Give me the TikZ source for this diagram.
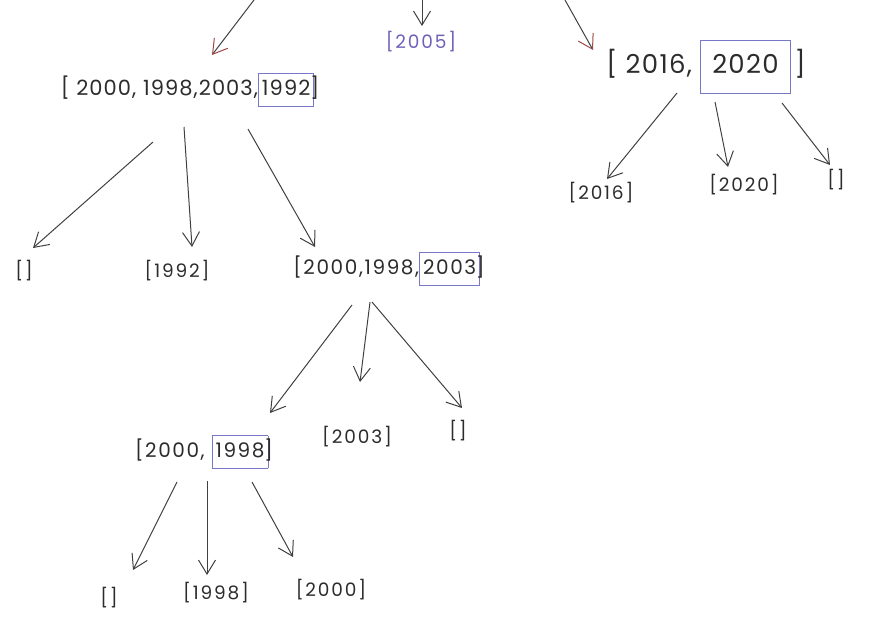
\documentclass[tikz,border=0pt]{standalone}
\usepackage{fontspec}
\setmainfont{Poppins}
\newfontfamily\handS[LetterSpace=10]{Poppins}
\newfontfamily\handM[LetterSpace=8]{Poppins}
\newfontfamily\handL[LetterSpace=5]{Poppins}
\usetikzlibrary{arrows.meta}
\definecolor{ink}{HTML}{2C2C2C}
\definecolor{line}{HTML}{404040}
\definecolor{pivot}{HTML}{7878C8}
\definecolor{purp}{HTML}{7060B8}
\definecolor{tipred}{HTML}{A04848}
\newcommand{\pv}[2][3pt]{{\setlength{\fboxsep}{#1}\setlength{\fboxrule}{0.9pt}\color{pivot}\fbox{\color{ink}\strut#2}}}
\begin{document}
\begin{tikzpicture}[x=1pt,y=-1pt,
  lbl/.style={inner sep=0pt, text=ink, font=\handS\fontsize{18.5}{22}\selectfont},
  mid/.style={inner sep=0pt, text=ink, font=\handM\fontsize{20}{26}\selectfont},
  big/.style={inner sep=0pt, text=ink, font=\handL\fontsize{21}{26}\selectfont},
  huge/.style={inner sep=0pt, text=ink, font=\handL\fontsize{26}{30}\selectfont},
  arr/.style={draw=line, line width=1pt, -{Straight Barb[length=14pt,width=17pt]}},
  arrred/.style={draw=line, line width=1pt, -{Straight Barb[length=14pt,width=17pt,color=tipred]}}]
\useasboundingbox (0,0) rectangle (869,632);
% free ends at top
\coordinate (t1) at (254,0);
\coordinate (t2) at (422,0);
\coordinate (t3) at (565,0);
% nodes
\node[big] (L1) at (190,90) {[ 2000, 1998,2003,\pv{1992}\kern-4pt]};
\node[lbl, text=purp] (n2005) at (421,42) {[2005]};
\node[huge] (R1) at (706,67) {[ 2016, \pv[11pt]{2020}\kern4pt]};
\node[lbl] (B1) at (601,193) {[2016]};
\node[lbl] (B2) at (744,185) {[2020]};
\node[lbl] (B3) at (836,180) {[]};
\node[lbl] (A1) at (24,271) {[]};
\node[lbl] (A2) at (177,271) {[1992]};
\node[mid] (L2) at (389,269) {[2000,1998,\pv{2003}\kern-4pt]};
\node[mid] (L3) at (204,452) {[2000, \pv{1998}\kern-4pt]};
\node[lbl] (C2) at (357,437) {[2003]};
\node[lbl] (C3) at (458,431) {[]};
\node[lbl] (D1) at (109,598) {[]};
\node[lbl] (D2) at (216,593) {[1998]};
\node[lbl] (D3) at (331,590) {[2000]};
% connectors
\draw[arrred] (t1) -- ([shift={(22,-35)}]L1.center);
\draw[arr] (t2) -- ([shift={(1,-16)}]n2005.center);
\draw[arrred] (t3) -- ([shift={(-113,-17)}]R1.center);
\draw[arr] ([shift={(-29,26)}]R1.center) -- ([shift={(6,-14)}]B1.center);
\draw[arr] ([shift={(9,35)}]R1.center) -- ([shift={(-16,-18)}]B2.center);
\draw[arr] ([shift={(76,36)}]R1.center) -- ([shift={(-6,-15)}]B3.center);
\draw[arr] ([shift={(-37,52)}]L1.center) -- ([shift={(9,-23)}]A1.center);
\draw[arr] ([shift={(-6,37)}]L1.center) -- ([shift={(15,-24)}]A2.center);
\draw[arr] ([shift={(58,39)}]L1.center) -- ([shift={(-74,-22)}]L2.center);
\draw[arr] ([shift={(-37,36)}]L2.center) -- ([shift={(66,-39)}]L3.center);
\draw[arr] ([shift={(-19,33)}]L2.center) -- ([shift={(3,-55)}]C2.center);
\draw[arr] ([shift={(-17,33)}]L2.center) -- ([shift={(4,-23)}]C3.center);
\draw[arr] ([shift={(-27,30)}]L3.center) -- ([shift={(24,-28)}]D1.center);
\draw[arr] ([shift={(3,29)}]L3.center) -- ([shift={(-9,-18)}]D2.center);
\draw[arr] ([shift={(48,30)}]L3.center) -- ([shift={(-38,-33)}]D3.center);
\end{tikzpicture}
\end{document}
